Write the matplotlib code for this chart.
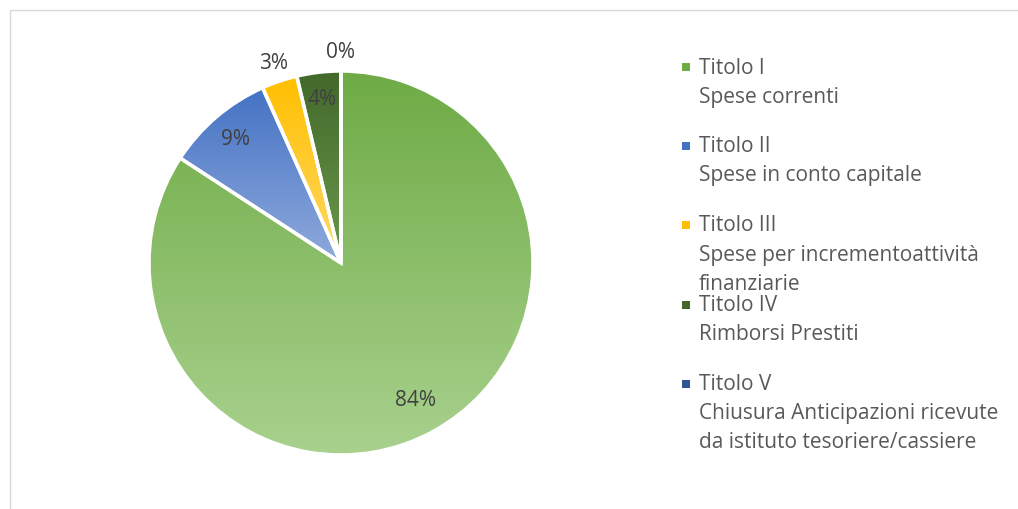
import numpy as np
import matplotlib.pyplot as plt
from matplotlib.patches import Rectangle
from matplotlib.colors import LinearSegmentedColormap

plt.rcParams['font.family'] = ['Open Sans', 'DejaVu Sans']

titoli = ["Titolo I", "Titolo II", "Titolo III", "Titolo IV", "Titolo V"]
descrizioni = ["Spese correnti",
               "Spese in conto capitale",
               "Spese per incrementoattività\nfinanziarie",
               "Rimborsi Prestiti",
               "Chiusura Anticipazioni ricevute\nda istituto tesoriere/cassiere"]
valori = [84.2, 9.1, 3.0, 3.7, 0.0]
etichette = ["84%", "9%", "3%", "4%", "0%"]

# colore alto (scuro) -> colore basso (chiaro)
colori = [("#6EAB45", "#A9D18E"),
          ("#4472C4", "#8FAADC"),
          ("#FFBF00", "#FFD966"),
          ("#43682B", "#6A9A4A"),
          ("#2F5597", "#5B7FC0")]

fig = plt.figure(figsize=(10.18, 5.10), dpi=100)
W, H = 1018, 510

# bordo area grafico (tagliato a destra e in basso)
fig.patches.append(Rectangle((10 / W, -0.1), 1.2, (510 - 11) / H + 0.1,
                             transform=fig.transFigure, fill=False,
                             edgecolor="#D9D9D9", lw=1))

cx, cy, r = 341, 264, 192
ax = fig.add_axes([(cx - r) / W, (H - cy - r) / H, 2 * r / W, 2 * r / H])
ax.set_xlim(-1, 1)
ax.set_ylim(-1, 1)
ax.axis("off")

wedges, _ = ax.pie(valori, startangle=90, counterclock=False, radius=1,
                   wedgeprops=dict(edgecolor="white", linewidth=2.5))

for w, (c1, c2) in zip(wedges, colori):
    w.set_facecolor(c1)
    ext = w.get_path().get_extents()
    if ext.height <= 0 or ext.width <= 0:
        continue
    cmap = LinearSegmentedColormap.from_list("g", [c2, c1])
    grad = np.linspace(0, 1, 256).reshape(-1, 1)
    im = ax.imshow(grad, cmap=cmap, origin="lower", aspect="auto",
                   extent=[ext.x0, ext.x1, ext.y0, ext.y1], zorder=w.get_zorder())
    im.set_clip_path(w)
    # ridisegna il bordo bianco sopra il gradiente
    w.set_zorder(w.get_zorder() + 0.5)
    w.set_facecolor("none")

ax.set_xlim(-1, 1)
ax.set_ylim(-1, 1)

# etichette percentuali
tot = sum(valori)
start = 90
dist = [0.81, 0.85, 1.1, 0.86, 1.1]
for v, lab, d in zip(valori, etichette, dist):
    mid = start - v / tot * 360 / 2
    start -= v / tot * 360
    a = np.deg2rad(mid)
    ax.text(d * np.cos(a), d * np.sin(a), lab, ha="center", va="center",
            fontsize=15, color="#404040", zorder=10)

# legenda manuale
y_top = [68, 147, 226, 306, 385]
for tit, desc, (c1, c2), yt in zip(titoli, descrizioni, colori, y_top):
    fig.patches.append(Rectangle((682 / W, (H - yt - 4) / H), 8 / W, 8 / H,
                                 transform=fig.transFigure,
                                 facecolor=c1, edgecolor="none"))
    fig.text(699 / W, (H - yt) / H, tit, ha="left", va="center",
             fontsize=15, color="#595959")
    for i, line in enumerate(desc.split("\n")):
        fig.text(699 / W, (H - yt - 29 * (i + 1)) / H, line, ha="left",
                 va="center", fontsize=15, color="#595959")

fig.savefig("out.png", dpi=100)
